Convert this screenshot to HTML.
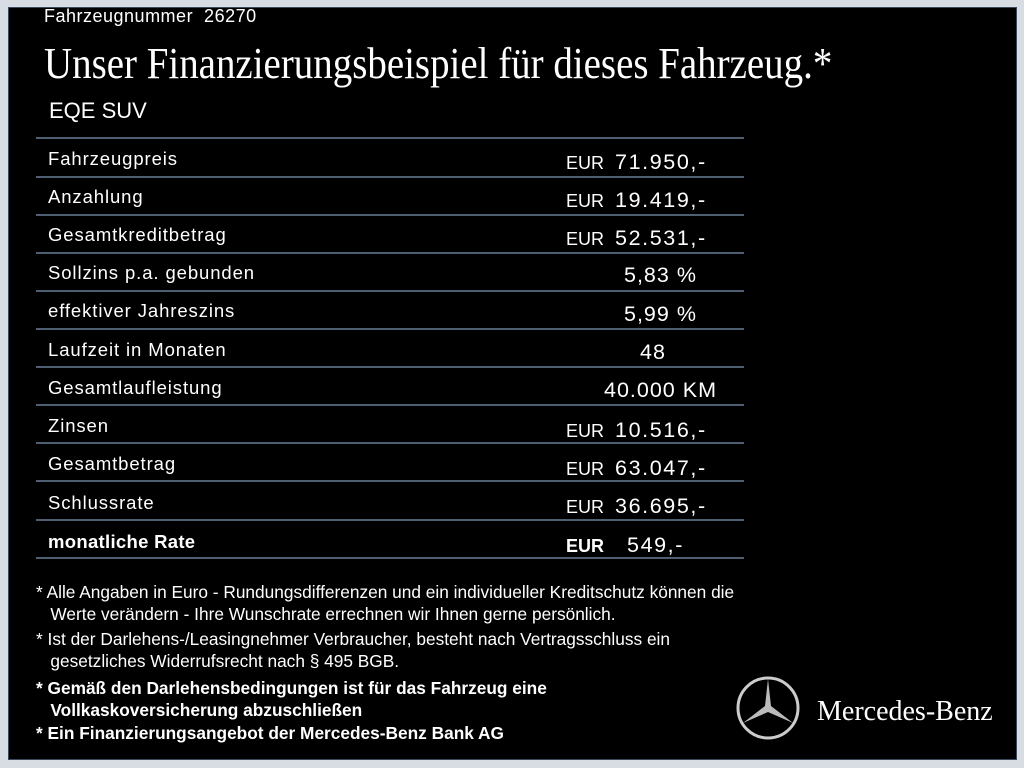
<!DOCTYPE html>
<html><head><meta charset="utf-8"><style>
body{margin:0;width:1024px;height:768px;background:#d8dde3;position:relative;overflow:hidden;font-family:"Liberation Sans",sans-serif;color:#fff}
#p{position:absolute;left:8px;top:7px;width:1007px;height:751px;background:#000;border:1px solid #3a4a5c}
.a{position:absolute;white-space:nowrap}
.l{position:absolute;left:36px;width:708px;height:2px;background:#4f5f72}
.r{font-size:18.5px;left:48px;letter-spacing:0.9px}
.e{font-size:18px;left:566px}
.v{font-size:21.5px;letter-spacing:1.6px}
.e .v{margin-left:6px}
.f{font-size:17.3px;line-height:22px}
</style></head><body>
<div id="p"></div>
<div class="a" style="left:44px;top:6px;font-size:18px;letter-spacing:0.5px">Fahrzeugnummer&nbsp; 26270</div>
<div class="a" style="left:44px;top:38px;font-family:'Liberation Serif',serif;font-size:44px;transform:scaleX(0.885);transform-origin:left">Unser Finanzierungsbeispiel für dieses Fahrzeug.*</div>
<div class="a" style="left:49px;top:98px;font-size:22px">EQE SUV</div>
<div class="l" style="top:137px"></div><div class="l" style="top:176px"></div><div class="l" style="top:214px"></div><div class="l" style="top:252px"></div><div class="l" style="top:290px"></div><div class="l" style="top:328px"></div><div class="l" style="top:366px"></div><div class="l" style="top:404px"></div><div class="l" style="top:442px"></div><div class="l" style="top:480px"></div><div class="l" style="top:519px"></div><div class="l" style="top:557px"></div>
<div class="a r" style="top:148px">Fahrzeugpreis</div><div class="a e" style="top:150px">EUR <span class="v">71.950,-</span></div>
<div class="a r" style="top:186px">Anzahlung</div><div class="a e" style="top:188px">EUR <span class="v">19.419,-</span></div>
<div class="a r" style="top:224px">Gesamtkreditbetrag</div><div class="a e" style="top:226px">EUR <span class="v">52.531,-</span></div>
<div class="a r" style="top:262px">Sollzins p.a. gebunden</div><div class="a v" style="left:624px;top:263px;letter-spacing:1px">5,83 %</div>
<div class="a r" style="top:300px">effektiver Jahreszins</div><div class="a v" style="left:624px;top:302px;letter-spacing:1px">5,99 %</div>
<div class="a r" style="top:339px">Laufzeit in Monaten</div><div class="a v" style="left:640px;top:340px;letter-spacing:1px">48</div>
<div class="a r" style="top:377px">Gesamtlaufleistung</div><div class="a v" style="left:604px;top:378px;letter-spacing:1px">40.000 KM</div>
<div class="a r" style="top:415px">Zinsen</div><div class="a e" style="top:418px">EUR <span class="v">10.516,-</span></div>
<div class="a r" style="top:453px">Gesamtbetrag</div><div class="a e" style="top:456px">EUR <span class="v">63.047,-</span></div>
<div class="a r" style="top:492px">Schlussrate</div><div class="a e" style="top:494px">EUR <span class="v">36.695,-</span></div>
<div class="a r" style="top:531px;font-weight:bold;letter-spacing:0.3px">monatliche Rate</div><div class="a e" style="top:533px;font-weight:bold">EUR <span class="v" style="font-weight:normal;margin-left:18px">549,-</span></div>
<div class="a f" style="left:36px;top:581px">* Alle Angaben in Euro - Rundungsdifferenzen und ein individueller Kreditschutz können die<br>&nbsp;&nbsp;&nbsp;Werte verändern - Ihre Wunschrate errechnen wir Ihnen gerne persönlich.</div>
<div class="a f" style="left:36px;top:628px">* Ist der Darlehens-/Leasingnehmer Verbraucher, besteht nach Vertragsschluss ein<br>&nbsp;&nbsp;&nbsp;gesetzliches Widerrufsrecht nach § 495 BGB.</div>
<div class="a f" style="left:36px;top:677px;font-weight:bold">* Gemäß den Darlehensbedingungen ist für das Fahrzeug eine<br>&nbsp;&nbsp;&nbsp;Vollkaskoversicherung abzuschließen</div>
<div class="a f" style="left:36px;top:722px;font-weight:bold">* Ein Finanzierungsangebot der Mercedes-Benz Bank AG</div>
<svg class="a" style="left:735px;top:675px" width="66" height="66" viewBox="0 0 66 66">
<circle cx="33" cy="33" r="30" fill="none" stroke="#ccc" stroke-width="3"/>
<polygon points="33,4 36,31 58,48 33,37 8,48 30,31" fill="#bbb"/>
</svg>
<div class="a" style="left:817px;top:696px;font-family:'Liberation Serif',serif;font-size:28px">Mercedes-Benz</div>
</body></html>
